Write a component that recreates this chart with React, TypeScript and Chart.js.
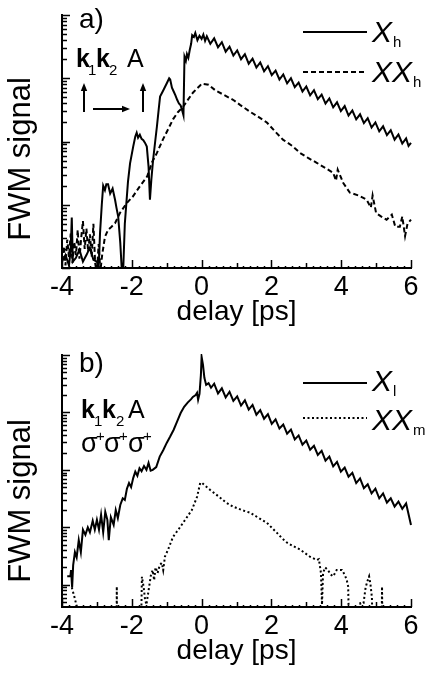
import React, { useEffect, useRef } from 'react';
import { Chart, registerables } from 'chart.js';
Chart.register(...registerables);

const FONT = '"Liberation Sans", Arial, Helvetica, sans-serif';

// ---------- axes ----------
const xTickValues = [-4, -2, 0, 2, 4, 6];
const delayMin = -4;
const delayMax = 6;
const aSignalMin = 1;
const aSignalMax = 10000;
const bSignalMin = 0.41;
const bSignalMax = 10000;
const xAxisTitle = 'delay [ps]';
const yAxisTitle = 'FWM signal';

// ---------- panel a : X_h (solid) ----------
const aXhDelay = [
  -4.0, -3.9, -3.8, -3.75, -3.72, -3.69, -3.6, -3.5, -3.4, -3.3, -3.2, -3.1, -3.0, -2.95,
  -2.91, -2.86, -2.82, -2.77, -2.73, -2.68, -2.62, -2.55, -2.48, -2.44, -2.39, -2.33, -2.28, -2.25,
  -2.2, -2.11, -2.05, -1.96, -1.9, -1.86, -1.82, -1.77, -1.72, -1.67, -1.62, -1.57, -1.52, -1.48,
  -1.44, -1.39, -1.33, -1.28, -1.23, -1.19, -1.1, -0.99, -0.93, -0.9, -0.85, -0.8, -0.75, -0.7,
  -0.65, -0.6, -0.55, -0.52, -0.49, -0.45, -0.42, -0.38, -0.34, -0.3, -0.27, -0.22, -0.18, -0.12,
  -0.06, 0.0, 0.05, 0.1, 0.15, 0.25, 0.36, 0.47, 0.58, 0.69, 0.8, 0.91, 1.02, 1.13, 1.24, 1.35,
  1.46, 1.57, 1.68, 1.79, 1.9, 2.01, 2.12, 2.23, 2.34, 2.45, 2.56, 2.67, 2.78, 2.89, 3.0, 3.11,
  3.22, 3.33, 3.44, 3.55, 3.66, 3.77, 3.88, 3.99, 4.1, 4.21, 4.32, 4.43, 4.54, 4.65, 4.76, 4.87,
  4.98, 5.09, 5.2, 5.31, 5.42, 5.53, 5.64, 5.75, 5.86, 5.93, 6.0,
];
const aXhSignal = [
  1.26, 1.6, 1.1, 1.95, 6.3, 1.26, 1.45, 1.95, 1.26, 1.6, 2.1, 1.35, 1.26, 1.0,
  3.6, 10, 20, 17, 21, 21, 15, 18, 12, 9, 6.5, 2.5, 0.8, 0.8,
  5, 23, 45, 83, 120, 138, 115, 128, 110, 105, 95, 83, 40, 12,
  25, 51, 100, 174, 320, 513, 640, 850, 1000, 955, 708, 617, 537, 457,
  398, 372, 300, 260, 2200, 1900, 2400, 2100, 2800, 3500, 4800, 4500, 5200, 4000,
  4700, 4200, 4900, 3900, 4600, 3500, 4270, 3090, 3720, 2630, 3160, 2290, 2750, 2000, 2400, 1700,
  2040, 1480, 1780, 1290, 1550, 1120, 1320, 955, 1150, 832, 1000, 724, 851, 617, 741, 537,
  646, 468, 550, 398, 479, 347, 417, 302, 363, 257, 309, 224, 269, 195, 234, 166,
  200, 145, 174, 126, 151, 107, 129, 93, 112, 85, 95,
];

// ---------- panel a : XX_h (dashed) ----------
const aXXhDelay = [
  -4.0, -3.95, -3.9, -3.85, -3.8, -3.75, -3.7, -3.65, -3.6, -3.55, -3.5, -3.45, -3.4, -3.35,
  -3.3, -3.25, -3.2, -3.15, -3.1, -3.05, -3.0, -2.95, -2.9, -2.85, -2.77, -2.68, -2.58, -2.48,
  -2.34, -2.14, -1.97, -1.77, -1.56, -1.42, -1.28, -1.11, -0.95, -0.82, -0.68, -0.53, -0.4, -0.25,
  -0.12, -0.05, 0.0, 0.2, 0.4, 0.6, 0.9, 1.1, 1.39, 1.6, 1.87, 2.1, 2.33, 2.6, 2.82, 3.05,
  3.3, 3.55, 3.77, 3.85, 3.9, 4.06, 4.25, 4.5, 4.73, 4.85, 4.9, 5.0, 5.15, 5.3, 5.45, 5.55,
  5.68, 5.75, 5.83, 5.9, 6.0,
];
const aXXhSignal = [
  1.3, 2.2, 1.1, 2.8, 1.5, 3.5, 1.2, 2.6, 1.6, 4.0, 1.4, 3.0, 5.5, 2.0,
  4.2, 1.8, 3.4, 1.5, 5.0, 1.2, 0.8, 2.4, 0.9, 1.6, 3.1, 4.0, 4.5, 5.1,
  7.4, 10.7, 13.5, 19.5, 28, 47, 66, 107, 160, 224, 290, 355, 450, 590,
  700, 760, 820, 790, 640, 560, 457, 380, 295, 250, 200, 145, 107, 85, 66, 55,
  46, 38, 32, 24, 36, 22, 15.5, 14, 12, 9, 14, 7.4, 6.5, 5.8, 7.0, 4.5,
  4.5, 6.5, 3.2, 5.0, 5.8,
];

// ---------- panel b : X_l (solid) ----------
const bXlDelay = [
  -3.85, -3.76, -3.74, -3.71, -3.68, -3.63, -3.58, -3.52, -3.46, -3.4, -3.33, -3.26, -3.2, -3.12,
  -3.06, -3.0, -2.94, -2.88, -2.82, -2.76, -2.7, -2.66, -2.6, -2.52, -2.46, -2.4, -2.33, -2.26,
  -2.2, -2.14, -2.08, -2.02, -1.96, -1.9, -1.84, -1.78, -1.72, -1.65, -1.58, -1.52, -1.46, -1.4,
  -1.3, -1.2, -1.1, -1.0, -0.9, -0.8, -0.7, -0.6, -0.5, -0.4, -0.3, -0.25, -0.17, -0.13,
  -0.1, -0.06, -0.02, 0.0, 0.04, 0.08, 0.13, 0.2, 0.27, 0.36, 0.47, 0.58, 0.69, 0.8, 0.91, 1.02,
  1.13, 1.24, 1.35, 1.46, 1.57, 1.68, 1.79, 1.9, 2.01, 2.12, 2.23, 2.34, 2.45, 2.56, 2.67, 2.78,
  2.89, 3.0, 3.11, 3.22, 3.33, 3.44, 3.55, 3.66, 3.77, 3.88, 3.99, 4.1, 4.21, 4.32, 4.43, 4.54,
  4.65, 4.76, 4.87, 4.98, 5.09, 5.2, 5.31, 5.42, 5.53, 5.64, 5.75, 5.86, 6.0,
];
const bXlSignal = [
  1.4, 1.4, 1.8, 0.9, 2.2, 3.7, 3.0, 6.0, 3.7, 9.1, 7.4, 10, 8.2, 13,
  9.1, 13.5, 9.1, 16.6, 8.2, 18.6, 13.5, 6.0, 15, 11, 20, 14.5, 24.5, 32,
  30, 47, 59, 50, 72, 93, 79, 107, 95, 117, 100, 132, 97, 100,
  112, 170, 220, 295, 380, 500, 700, 977, 1250, 1480, 1700, 1860, 2000, 2190,
  1660, 2100, 4500, 9300, 6700, 4000, 3020, 3240, 2690, 3160, 2140, 2630, 1820, 2290, 1585, 1905,
  1318, 1622, 1122, 1349, 912, 1096, 776, 933, 631, 759, 525, 617, 427, 501, 339, 398,
  275, 324, 224, 263, 182, 214, 145, 170, 115, 138, 93, 110, 76, 89, 59, 71,
  48, 56, 39, 47, 32, 39, 27, 32, 23, 28, 21, 26, 11,
];

// ---------- panel b : XX_m (dotted) ----------
const bXXmDelay = [
  -3.72, -3.64, -3.56, -3.5, -2.44, -2.43, -2.42, -1.75, -1.71, -1.66, -1.62, -1.58, -1.55, -1.5,
  -1.45, -1.4, -1.36, -1.32, -1.26, -1.2, -1.14, -1.1, -1.05, -0.96, -0.82, -0.62, -0.42, -0.28,
  -0.13, -0.04, 0.0, 0.24, 0.5, 0.7, 0.9, 1.15, 1.39, 1.6, 1.87, 2.0, 2.16, 2.3, 2.45, 2.6,
  2.82, 2.95, 3.1, 3.3, 3.36, 3.42, 3.45, 3.48, 3.54, 3.62, 3.7, 3.77, 3.87, 4.02, 4.1, 4.16,
  4.2, 4.24, 4.5, 4.55, 4.64, 4.7, 4.76, 4.8, 4.84, 4.88, 4.92, 5.15, 5.17, 5.19,
];
const bXXmSignal = [
  0.9, 0.6, 0.38, 0.05, 0.05, 0.93, 0.05, 0.05, 1.38, 0.9, 0.55, 0.45, 0.6, 0.95,
  1.5, 1.8, 1.2, 2.0, 1.6, 2.2, 2.4, 1.8, 3.1, 4.1, 6.8, 10, 15, 20,
  34, 59, 60, 45, 34, 27, 23, 20, 18, 15, 12, 10, 8, 6.5, 5.4, 4.8,
  4.1, 3.6, 3.1, 2.7, 2.8, 1.6, 0.45, 1.6, 2.0, 1.8, 1.5, 1.4, 1.8, 1.8, 1.5, 1.2,
  0.93, 0.05, 0.3, 0.48, 0.48, 0.9, 1.2, 1.4, 1.0, 0.6, 0.05, 0.05, 0.93, 0.05,
];

// ---------- legends ----------
const aLegendMain = ['X', 'XX'];
const aLegendSub = ['h', 'h'];
const bLegendMain = ['X', 'XX'];
const bLegendSub = ['l', 'm'];

const toPoints = (xs: number[], ys: number[]) => xs.map((x, i) => ({ x, y: ys[i] }));

type Part = { t: string; x: number; font: string; dy: number };

function drawParts(ctx: CanvasRenderingContext2D, baseline: number, parts: Part[]) {
  ctx.textAlign = 'left';
  ctx.textBaseline = 'alphabetic';
  for (const p of parts) {
    ctx.font = `${p.font} ${FONT}`;
    ctx.fillText(p.t, p.x, baseline + p.dy);
  }
}

function drawArrow(ctx: CanvasRenderingContext2D, x1: number, y1: number, x2: number, y2: number) {
  const ang = Math.atan2(y2 - y1, x2 - x1);
  const hl = 8;
  const hw = 3.2;
  ctx.beginPath();
  ctx.moveTo(x1, y1);
  ctx.lineTo(x2 - hl * 0.7 * Math.cos(ang), y2 - hl * 0.7 * Math.sin(ang));
  ctx.stroke();
  ctx.beginPath();
  ctx.moveTo(x2, y2);
  ctx.lineTo(x2 - hl * Math.cos(ang) + hw * Math.sin(ang), y2 - hl * Math.sin(ang) - hw * Math.cos(ang));
  ctx.lineTo(x2 - hl * Math.cos(ang) - hw * Math.sin(ang), y2 - hl * Math.sin(ang) + hw * Math.cos(ang));
  ctx.closePath();
  ctx.fill();
}

function drawTicks(chart: any) {
  const { ctx, chartArea, scales } = chart;
  const xs = scales.x;
  const ys = scales.y;
  ctx.save();
  ctx.strokeStyle = '#000';
  ctx.lineWidth = 1.5;
  ctx.beginPath();
  for (let i = delayMin * 10; i <= delayMax * 10; i += 2) {
    const px = Math.round(xs.getPixelForValue(i / 10)) + 0.5;
    const len = i % 20 === 0 ? 8 : i % 10 === 0 ? 5 : 2;
    ctx.moveTo(px, chartArea.bottom);
    ctx.lineTo(px, chartArea.bottom - len);
  }
  for (let e = -1; e <= 4; e++) {
    for (let k = 1; k <= 9; k++) {
      const v = k * Math.pow(10, e);
      if (v < ys.min * 0.999 || v > ys.max * 1.001) continue;
      const py = Math.round(ys.getPixelForValue(v)) + 0.5;
      const len = k === 1 ? 8 : 5;
      ctx.moveTo(chartArea.left, py);
      ctx.lineTo(chartArea.left + len, py);
    }
  }
  ctx.stroke();
  ctx.restore();
}

function drawYTitle(ctx: CanvasRenderingContext2D, cx: number, cy: number) {
  ctx.save();
  ctx.translate(cx, cy);
  ctx.rotate(-Math.PI / 2);
  ctx.font = `31px ${FONT}`;
  ctx.textAlign = 'center';
  ctx.textBaseline = 'middle';
  ctx.fillStyle = '#000';
  ctx.fillText(yAxisTitle, 0, 0);
  ctx.restore();
}

function drawLegendRow(
  ctx: CanvasRenderingContext2D, y: number, dash: number[], main: string, sub: string, textBase: number,
) {
  ctx.save();
  ctx.strokeStyle = '#000';
  ctx.lineWidth = 2;
  ctx.setLineDash(dash);
  ctx.beginPath();
  ctx.moveTo(303, y);
  ctx.lineTo(367, y);
  ctx.stroke();
  ctx.setLineDash([]);
  ctx.fillStyle = '#000';
  ctx.textAlign = 'left';
  ctx.textBaseline = 'alphabetic';
  ctx.font = `italic 30px ${FONT}`;
  ctx.fillText(main, 372, textBase);
  const w = ctx.measureText(main).width;
  ctx.font = `15px ${FONT}`;
  ctx.fillText(sub, 372 + w + 1, textBase + 5);
  ctx.restore();
}

function decoA(chart: any) {
  const ctx: CanvasRenderingContext2D = chart.ctx;
  drawTicks(chart);
  ctx.save();
  ctx.fillStyle = '#000';
  ctx.strokeStyle = '#000';
  drawParts(ctx, 28, [{ t: 'a)', x: 79, font: '28px', dy: 0 }]);
  drawParts(ctx, 67, [
    { t: 'k', x: 76, font: 'bold 25px', dy: 0 },
    { t: '1', x: 88, font: '15px', dy: 8 },
    { t: 'k', x: 96, font: 'bold 25px', dy: 0 },
    { t: '2', x: 109, font: '15px', dy: 8 },
    { t: 'A', x: 127, font: '25px', dy: 0 },
  ]);
  ctx.lineWidth = 2;
  drawArrow(ctx, 84, 112, 84, 83);
  drawArrow(ctx, 93, 109, 130, 109);
  drawArrow(ctx, 143, 112, 143, 83);
  drawYTitle(ctx, 21, 159);
  drawLegendRow(ctx, 32, [], aLegendMain[0], aLegendSub[0], 42);
  drawLegendRow(ctx, 72, [5, 3], aLegendMain[1], aLegendSub[1], 82);
  ctx.restore();
}

function decoB(chart: any) {
  const ctx: CanvasRenderingContext2D = chart.ctx;
  drawTicks(chart);
  ctx.save();
  ctx.fillStyle = '#000';
  drawParts(ctx, 32, [{ t: 'b)', x: 79, font: '28px', dy: 0 }]);
  drawParts(ctx, 78, [
    { t: 'k', x: 81, font: 'bold 25px', dy: 0 },
    { t: '1', x: 94, font: '15px', dy: 8 },
    { t: 'k', x: 102, font: 'bold 25px', dy: 0 },
    { t: '2', x: 116, font: '15px', dy: 8 },
    { t: 'A', x: 128, font: '25px', dy: 0 },
  ]);
  drawParts(ctx, 112, [
    { t: 'σ', x: 81, font: '27px', dy: 0 },
    { t: '+', x: 96, font: '15px', dy: -11 },
    { t: 'σ', x: 104, font: '27px', dy: 0 },
    { t: '+', x: 119, font: '15px', dy: -11 },
    { t: 'σ', x: 128, font: '27px', dy: 0 },
    { t: '+', x: 143, font: '15px', dy: -11 },
  ]);
  drawYTitle(ctx, 21, 161);
  drawLegendRow(ctx, 43, [], bLegendMain[0], bLegendSub[0], 51);
  drawLegendRow(ctx, 78, [2, 2.5], bLegendMain[1], bLegendSub[1], 90);
  ctx.restore();
}

function makeOptions(yMin: number, yMax: number) {
  return {
    responsive: true,
    maintainAspectRatio: false,
    animation: false as const,
    events: [] as any[],
    layout: { padding: { top: 15, right: 16, left: 0, bottom: 0 } },
    plugins: { legend: { display: false }, tooltip: { enabled: false }, title: { display: false } },
    elements: { point: { radius: 0 }, line: { tension: 0 } },
    scales: {
      x: {
        type: 'linear' as const,
        min: delayMin,
        max: delayMax,
        afterBuildTicks: (s: any) => { s.ticks = xTickValues.map((v) => ({ value: v })); },
        afterFit: (s: any) => { s.height = 72; },
        grid: { display: false, drawTicks: false },
        border: { display: true, color: '#000', width: 2 },
        ticks: {
          color: '#000',
          font: { family: FONT, size: 27 },
          padding: 3,
          maxRotation: 0,
          autoSkip: false,
          callback: (v: any) => String(v),
        },
        title: {
          display: true,
          text: xAxisTitle,
          color: '#000',
          font: { family: FONT, size: 28 },
          padding: { top: 0, bottom: 10.7 },
        },
      },
      y: {
        type: 'logarithmic' as const,
        min: yMin,
        max: yMax,
        afterFit: (s: any) => { s.width = 62; },
        grid: { display: false, drawTicks: false },
        border: { display: true, color: '#000', width: 2 },
        ticks: { display: false },
      },
    },
  };
}

function Panel({ height, which }: { height: number; which: 'a' | 'b' }) {
  const ref = useRef<HTMLCanvasElement | null>(null);
  useEffect(() => {
    if (!ref.current) return;
    const isA = which === 'a';
    const datasets = isA
      ? [
          { data: toPoints(aXhDelay, aXhSignal), borderColor: '#000', borderWidth: 2, pointRadius: 0, clip: 1 },
          { data: toPoints(aXXhDelay, aXXhSignal), borderColor: '#000', borderWidth: 2, borderDash: [5, 3], pointRadius: 0, clip: 1 },
        ]
      : [
          { data: toPoints(bXlDelay, bXlSignal), borderColor: '#000', borderWidth: 2, pointRadius: 0, clip: 1 },
          { data: toPoints(bXXmDelay, bXXmSignal), borderColor: '#000', borderWidth: 2, borderDash: [2, 2.5], pointRadius: 0, clip: 1 },
        ];
    const chart = new Chart(ref.current, {
      type: 'line',
      data: { datasets: datasets as any },
      options: makeOptions(isA ? aSignalMin : bSignalMin, isA ? aSignalMax : bSignalMax) as any,
      plugins: [{ id: 'deco' + which, afterDraw: isA ? decoA : decoB }],
    });
    return () => chart.destroy();
  }, [which]);
  return (
    <div style={{ position: 'relative', width: 427, height }}>
      <canvas ref={ref} />
    </div>
  );
}

export default function App() {
  return (
    <div style={{ position: 'fixed', left: 0, top: 0, width: 427, height: 679, background: '#fff' }}>
      <Panel height={340} which="a" />
      <Panel height={339} which="b" />
    </div>
  );
}
